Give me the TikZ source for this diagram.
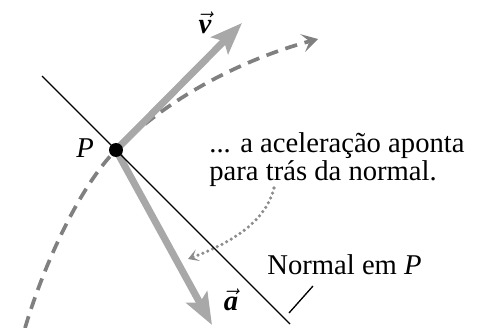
\documentclass[tikz,border=0pt]{standalone}
\usepackage{fontspec}
\setmainfont{Liberation Serif}
\usetikzlibrary{arrows.meta}
\definecolor{vecgray}{HTML}{A8A8A8}
\definecolor{pathgray}{HTML}{808080}
\definecolor{dotgray}{HTML}{8C8C8C}
\tikzset{
  vecarrow/.style={line width=4pt, vecgray, -{Stealth[length=18pt,width=13.5pt,inset=3.5pt]}},
  trajectory/.style={line width=2.1pt, pathgray, dash pattern=on 7pt off 4.4pt, -{Stealth[length=9pt,width=10.5pt,inset=4pt]}},
  pointer/.style={line width=2pt, dotgray, line cap=round, dash pattern=on 0pt off 3pt, -{Stealth[length=6pt,width=7pt,inset=3pt]}},
  normalline/.style={line width=0.75pt, black},
  label/.style={inner sep=0pt, font=\fontsize{16.3}{17}\selectfont},
}
\begin{document}
\begin{tikzpicture}[x=0.02cm,y=-0.02cm]
\useasboundingbox (0,0) rectangle (484,328);
% points
\coordinate (P) at (116,150);
\coordinate (curveStart) at (25,328);
\coordinate (curveEnd) at (318,39);
\coordinate (vtip) at (242,23);
\coordinate (atip) at (212,325);
\coordinate (nA) at (42,76);
\coordinate (nB) at (290,324);
\coordinate (dotStart) at (274,188);
\coordinate (dotEnd) at (188,259);
\coordinate (tickA) at (313,286);
\coordinate (tickB) at (289,313);
% trajectory
\draw[trajectory] (curveStart) .. controls (46,258) and (82,184) .. (P)
   .. controls (170,96) and (244,59) .. (curveEnd);
% dotted pointer
\draw[pointer] (dotStart) .. controls (265,225) and (225,245) .. (dotEnd);
% vectors
\draw[vecarrow] (P) -- (vtip);
\draw[vecarrow] (P) -- (atip);
% normal line
\draw[normalline] (nA) -- (nB);
\draw[normalline] (tickA) -- (tickB);
% point
\fill[black] (P) circle (0.14cm);
\node[label] (Plabel) at (85,148) {\textit{P}};
\node[label] (vlabel) at (205,23) {$\vec{\textbf{\textit{v}}}$};
\node[label] (alabel) at (231,300) {$\vec{\textbf{\textit{a}}}$};
\node[label, anchor=base west] (line1) at (209,152) {... a aceleração aponta};
\node[label, anchor=base west] (line2) at (209,180) {para trás da normal.};
\node[label, anchor=base west] (normlabel) at (267,274) {Normal em \textit{P}};
\end{tikzpicture}
\end{document}
